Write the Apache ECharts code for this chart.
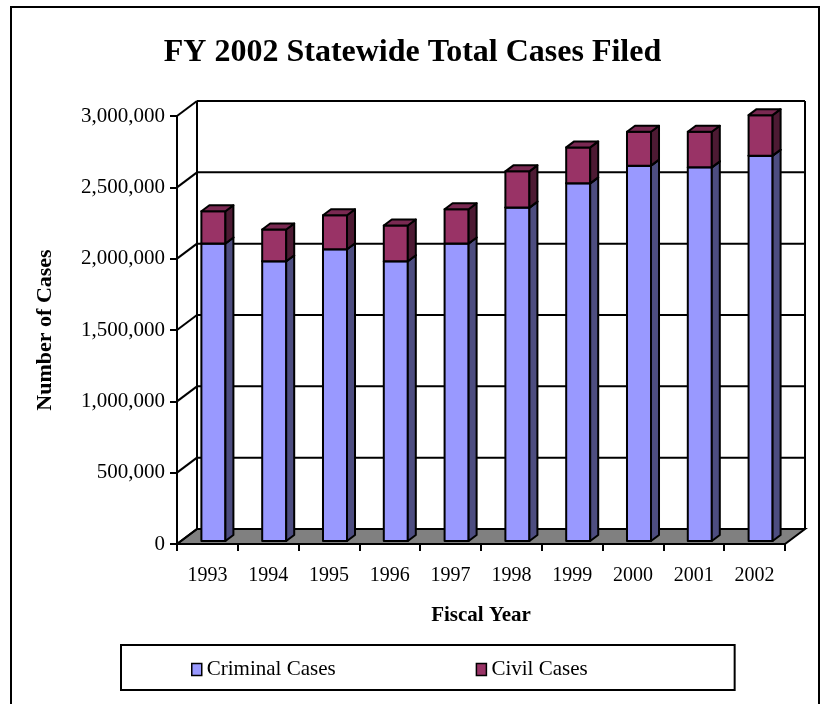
<!DOCTYPE html>
<html>
<head>
<meta charset="utf-8">
<script src="https://cdn.jsdelivr.net/npm/echarts@6/dist/echarts.min.js"></script>
<style>
  html, body { margin: 0; padding: 0; background: #fff; }
  #chart { width: 825px; height: 704px; }
</style>
</head>
<body>
<div id="chart"></div>
<script>
// data
const years = ['1993', '1994', '1995', '1996', '1997', '1998', '1999', '2000', '2001', '2002'];
const criminalCases = [2085000, 1961000, 2045000, 1961000, 2085000, 2337000, 2507000, 2631000, 2619000, 2701000];
const civilCases = [226000, 222000, 238000, 250000, 240000, 254000, 252000, 238000, 250000, 284000];
const valueTicks = [0, 500000, 1000000, 1500000, 2000000, 2500000, 3000000];

const FONT = "'Liberation Serif', 'Times New Roman', serif";

// 3d look: wall depth and bar depth in pixels
const DX = 20, DY = 15;
const BAR_DX = 8, BAR_DY = 6;

function frameItem(params, api) {
  const band = api.size([1, 0])[0];
  const xL = api.coord([0, 0])[0] - band / 2;
  const xR = api.coord([years.length - 1, 0])[0] + band / 2;
  const yOf = (v) => api.coord([0, v])[1];
  const y0 = yOf(0);
  const yTop = yOf(valueTicks[valueTicks.length - 1]);
  const line = { stroke: '#000', lineWidth: 2 };

  const children = [];
  // floor
  children.push({
    type: 'polygon',
    shape: { points: [[xL, y0], [xR, y0], [xR + DX, y0 - DY], [xL + DX, y0 - DY]] },
    style: { fill: '#808080', stroke: '#000', lineWidth: 2 }
  });
  // back wall edges
  children.push({ type: 'line', shape: { x1: xL + DX, y1: yTop - DY, x2: xL + DX, y2: y0 - DY }, style: line });
  children.push({ type: 'line', shape: { x1: xR + DX, y1: yTop - DY, x2: xR + DX, y2: y0 - DY }, style: line });
  valueTicks.forEach((v) => {
    const y = yOf(v);
    if (v > 0) {
      children.push({ type: 'line', shape: { x1: xL + DX, y1: y - DY, x2: xR + DX, y2: y - DY }, style: line });
    }
    children.push({ type: 'line', shape: { x1: xL, y1: y, x2: xL + DX, y2: y - DY }, style: line });
  });
  return { type: 'group', children: children };
}

function makeBar(front, side, top) {
  return function (params, api) {
    const i = api.value(0);
    const lo = api.coord([i, api.value(1)]);
    const hi = api.coord([i, api.value(2)]);
    const w = api.size([1, 0])[0] * 0.395;
    const xl = lo[0] - w / 2 + 6;
    const xr = xl + w;
    const yb = lo[1] - 3;
    const yt = hi[1] - 3;
    const st = { stroke: '#000', lineWidth: 2, lineJoin: 'round' };
    return {
      type: 'group',
      children: [
        {
          type: 'rect',
          shape: { x: xl, y: yt, width: w, height: yb - yt },
          style: Object.assign({ fill: front }, st)
        },
        {
          type: 'polygon',
          shape: { points: [[xr, yb], [xr + BAR_DX, yb - BAR_DY], [xr + BAR_DX, yt - BAR_DY], [xr, yt]] },
          style: Object.assign({ fill: side }, st)
        },
        {
          type: 'polygon',
          shape: { points: [[xl, yt], [xl + BAR_DX, yt - BAR_DY], [xr + BAR_DX, yt - BAR_DY], [xr, yt]] },
          style: Object.assign({ fill: top }, st)
        }
      ]
    };
  };
}

const chart = echarts.init(document.getElementById('chart'), null, { renderer: 'canvas' });

chart.setOption({
  backgroundColor: '#fff',
  animation: false,
  textStyle: { fontFamily: FONT, color: '#000' },
  title: {
    text: 'FY 2002 Statewide Total Cases Filed',
    left: 'center',
    top: 32,
    textStyle: { fontFamily: FONT, fontSize: 32, fontWeight: 'bold', color: '#000' }
  },
  graphic: [{
    type: 'polyline',
    shape: { points: [[11, 720], [11, 7], [819, 7], [819, 720]] },
    style: { stroke: '#000', lineWidth: 2, fill: null }
  }],
  legend: {
    data: ['Criminal Cases', 'Civil Cases'],
    left: 121,
    top: 645,
    icon: 'rect',
    itemWidth: 10,
    itemHeight: 12,
    itemGap: 140,
    padding: [14, 147, 10, 70],
    borderColor: '#000',
    borderWidth: 2,
    borderRadius: 0,
    itemStyle: { borderColor: '#000', borderWidth: 1.5 },
    textStyle: { fontFamily: FONT, fontSize: 21, color: '#000' }
  },
  grid: { left: 177, right: 40, top: 116, bottom: 160 },
  xAxis: {
    type: 'category',
    data: years,
    boundaryGap: true,
    name: 'Fiscal Year',
    nameLocation: 'middle',
    nameGap: 61,
    nameTextStyle: { fontFamily: FONT, fontSize: 21, fontWeight: 'bold', color: '#000' },
    axisLine: { show: true, lineStyle: { color: '#000', width: 2 } },
    axisTick: { show: true, length: 7, lineStyle: { color: '#000', width: 2 } },
    axisLabel: { margin: 22, fontFamily: FONT, fontSize: 20, color: '#000' },
    splitLine: { show: false }
  },
  yAxis: {
    type: 'value',
    min: 0,
    max: 3000000,
    interval: 500000,
    name: 'Number of Cases',
    nameLocation: 'middle',
    nameRotate: 90,
    nameGap: 121,
    nameTextStyle: { fontFamily: FONT, fontSize: 22, fontWeight: 'bold', color: '#000' },
    axisLine: { show: true, lineStyle: { color: '#000', width: 2 } },
    axisTick: { show: true, length: 7, lineStyle: { color: '#000', width: 2 } },
    axisLabel: {
      margin: 12,
      fontFamily: FONT,
      fontSize: 21,
      color: '#000',
      formatter: (v) => v.toLocaleString('en-US')
    },
    splitLine: { show: false }
  },
  series: [
    {
      name: 'frame',
      type: 'custom',
      silent: true,
      renderItem: frameItem,
      encode: { x: 0, y: 1 },
      data: [[0, 0]]
    },
    {
      name: 'Criminal Cases',
      type: 'custom',
      renderItem: makeBar('#9999FF', '#4D4D80', '#7A7ACC'),
      itemStyle: { color: '#9999FF', borderColor: '#000', borderWidth: 1.5 },
      encode: { x: 0, y: [1, 2] },
      data: years.map((y, i) => [i, 0, criminalCases[i]])
    },
    {
      name: 'Civil Cases',
      type: 'custom',
      renderItem: makeBar('#993366', '#4D1A33', '#7A2952'),
      itemStyle: { color: '#993366', borderColor: '#000', borderWidth: 1.5 },
      encode: { x: 0, y: [1, 2] },
      data: years.map((y, i) => [i, criminalCases[i], criminalCases[i] + civilCases[i]])
    }
  ]
});
</script>
</body>
</html>
